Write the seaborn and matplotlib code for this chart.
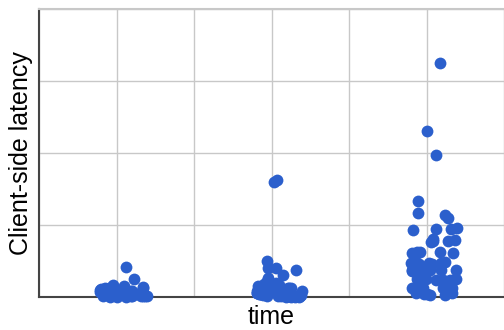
import numpy as np
import pandas as pd
import matplotlib
matplotlib.use("Agg")
import matplotlib.pyplot as plt
import matplotlib.transforms as mtransforms
import seaborn as sns

# valores (latencia por periodo)
periods = ["t1", "t2", "t3"]

lat_t1 = [0.42, 0.25, 0.17, 0.15, 0.14, 0.13, 0.12, 0.12, 0.11, 0.10, 0.10,
          0.09, 0.09, 0.08, 0.08, 0.07, 0.07, 0.06, 0.06, 0.06, 0.05, 0.05,
          0.05, 0.04, 0.04, 0.04, 0.03, 0.03, 0.03, 0.02, 0.02, 0.02, 0.02,
          0.01, 0.01, 0.01, 0.01, 0.00, 0.00, 0.00]

lat_t2 = [1.60, 1.63, 0.50, 0.40, 0.40, 0.38, 0.30, 0.26, 0.22, 0.20, 0.18,
          0.17, 0.16, 0.15, 0.14, 0.13, 0.13, 0.12, 0.12, 0.11, 0.11, 0.10,
          0.10, 0.10, 0.09, 0.09, 0.08, 0.08, 0.08, 0.07, 0.07, 0.07, 0.06,
          0.06, 0.06, 0.05, 0.05, 0.05, 0.04, 0.04, 0.04, 0.03, 0.03, 0.03,
          0.02, 0.02, 0.02, 0.02, 0.01, 0.01, 0.01, 0.01, 0.00, 0.00, 0.00,
          0.00]

lat_t3 = [3.25, 2.31, 1.97, 1.33, 1.17, 1.14, 1.10, 0.96, 0.95, 0.94, 0.93,
          0.80, 0.79, 0.78, 0.78, 0.76,
          0.62, 0.62, 0.61, 0.61, 0.62, 0.60,
          0.47, 0.47, 0.46, 0.48, 0.47, 0.46,
          0.38, 0.37, 0.37, 0.38, 0.36, 0.37, 0.38,
          0.25, 0.24, 0.24, 0.25, 0.23, 0.24, 0.24, 0.25,
          0.13, 0.12, 0.12, 0.13, 0.11, 0.12, 0.12, 0.13,
          0.04, 0.03, 0.05, 0.04, 0.03, 0.05]

df = pd.DataFrame({
    "time": ["t1"] * len(lat_t1) + ["t2"] * len(lat_t2) + ["t3"] * len(lat_t3),
    "latency": lat_t1 + lat_t2 + lat_t3,
})

sns.set_style("white")
plt.rcParams["font.family"] = ["Liberation Sans", "DejaVu Sans"]

np.random.seed(3)
fig = plt.figure(figsize=(5.04, 3.30), dpi=100)
ax = fig.add_axes([39 / 504, 1 - 297 / 330, 1 - 39 / 504, 288 / 330])

sns.stripplot(data=df, x="time", y="latency", order=periods, jitter=0.16,
              color="#2b5fcc", size=8.5, linewidth=0, ax=ax, zorder=3)

# los puntos del original quedan algo desplazados a la derecha
shift = mtransforms.offset_copy(ax.transData, fig=fig, x=7, y=0, units="dots")
for coll in ax.collections:
    coll.set_offset_transform(shift)
    coll.set_clip_on(False)

ax.set_xlim(-0.5, 2.5)
ax.set_ylim(0, 4)
ax.set_xticks(np.arange(-0.5, 2.6, 0.5))
ax.set_yticks([0, 1, 2, 3, 4])
ax.set_xticklabels([])
ax.set_yticklabels([])
ax.tick_params(length=0)
ax.grid(True, color="#c8c8c8", linewidth=1)
ax.set_axisbelow(True)

ax.spines["right"].set_visible(False)
ax.spines["top"].set_color("#c8c8c8")
ax.spines["top"].set_linewidth(1.5)
for side in ["left", "bottom"]:
    ax.spines[side].set_color("#444444")
    ax.spines[side].set_linewidth(1.5)

ax.set_xlabel("time", fontsize=18, color="black", labelpad=2)
ax.set_ylabel("Client-side latency", fontsize=18, color="black", labelpad=1)

plt.savefig("out.png", dpi=100)
